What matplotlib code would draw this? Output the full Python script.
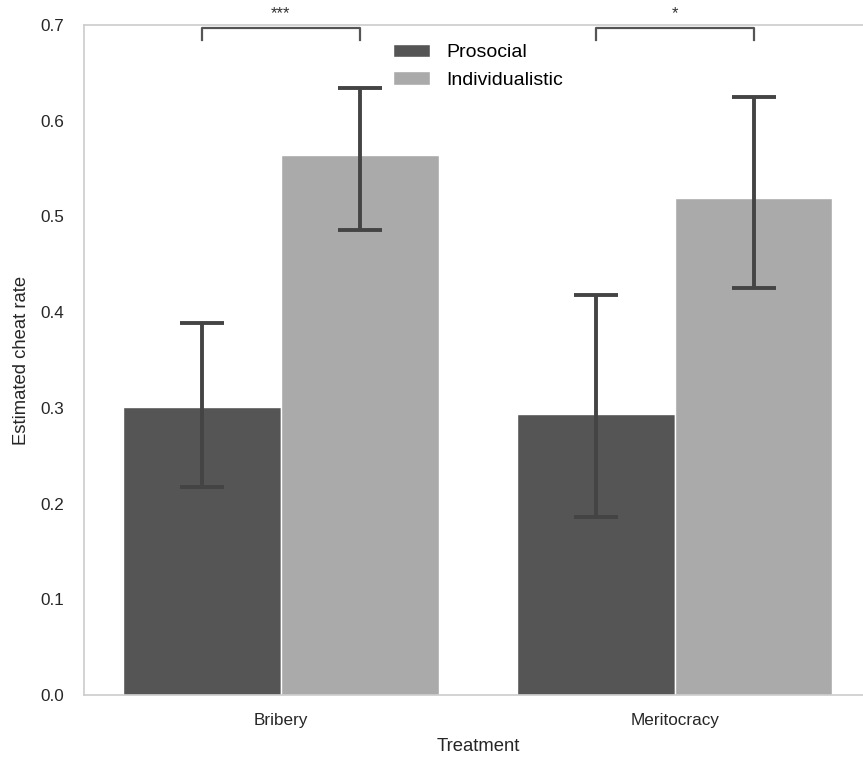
import numpy as np
import matplotlib.pyplot as plt

plt.rcParams['font.family'] = ['Liberation Sans', 'DejaVu Sans']

treatments = ["Bribery", "Meritocracy"]
groups = ["Prosocial", "Individualistic"]
cheat_rate = {
    "Prosocial": [0.301, 0.294],
    "Individualistic": [0.564, 0.519],
}
ci_low = {
    "Prosocial": [0.217, 0.186],
    "Individualistic": [0.486, 0.425],
}
ci_high = {
    "Prosocial": [0.389, 0.418],
    "Individualistic": [0.634, 0.625],
}
stars = ["***", "*"]
colors = {"Prosocial": "#555555", "Individualistic": "#aaaaaa"}

fig = plt.figure(figsize=(8.63, 7.58), dpi=100)
ax = fig.add_axes([0.0973, 0.0831, 0.913, 0.8839])

x = np.arange(len(treatments))
width = 0.4
for i, g in enumerate(groups):
    pos = x + (i - 0.5) * width
    vals = np.array(cheat_rate[g])
    err = [vals - np.array(ci_low[g]), np.array(ci_high[g]) - vals]
    ax.bar(pos, vals, width, color=colors[g], edgecolor="white", linewidth=1, label=g, zorder=2)
    ax.errorbar(pos, vals, yerr=err, fmt="none", ecolor="#444444", elinewidth=2.8,
                capsize=16, capthick=2.8, zorder=3)

# significance brackets between the two groups
for k, s in enumerate(stars):
    x0, x1 = x[k] - width / 2, x[k] + width / 2
    ax.plot([x0, x0, x1, x1], [0.684, 0.697, 0.697, 0.684], color="#555555",
            lw=1.6, clip_on=False, zorder=4)
    ax.text((x0 + x1) / 2, 0.704, s, ha="center", va="bottom", fontsize=12,
            color="#333333", clip_on=False)

ax.set_xlim(-0.5, 1.5)
ax.set_ylim(0, 0.7)
ax.set_xticks(x)
ax.set_xticklabels(treatments)
ax.set_yticks(np.arange(0, 0.71, 0.1))
ax.set_yticklabels([f"{v:.1f}" for v in np.arange(0, 0.71, 0.1)])
ax.tick_params(length=0, labelsize=12.3, colors="#262626")
ax.tick_params(axis="x", pad=13)
ax.tick_params(axis="y", pad=14)
ax.set_xlabel("Treatment", fontsize=13.3, color="#262626", labelpad=7)
ax.set_ylabel("Estimated cheat rate", fontsize=13.3, color="#262626", labelpad=8)
for sp in ax.spines.values():
    sp.set_color("#cccccc")
    sp.set_linewidth(1.2)

ax.legend(loc="upper center", frameon=False, fontsize=14, handlelength=1.9,
          handletextpad=0.85, bbox_to_anchor=(0.5, 0.998))

fig.savefig("out.png", dpi=100)
